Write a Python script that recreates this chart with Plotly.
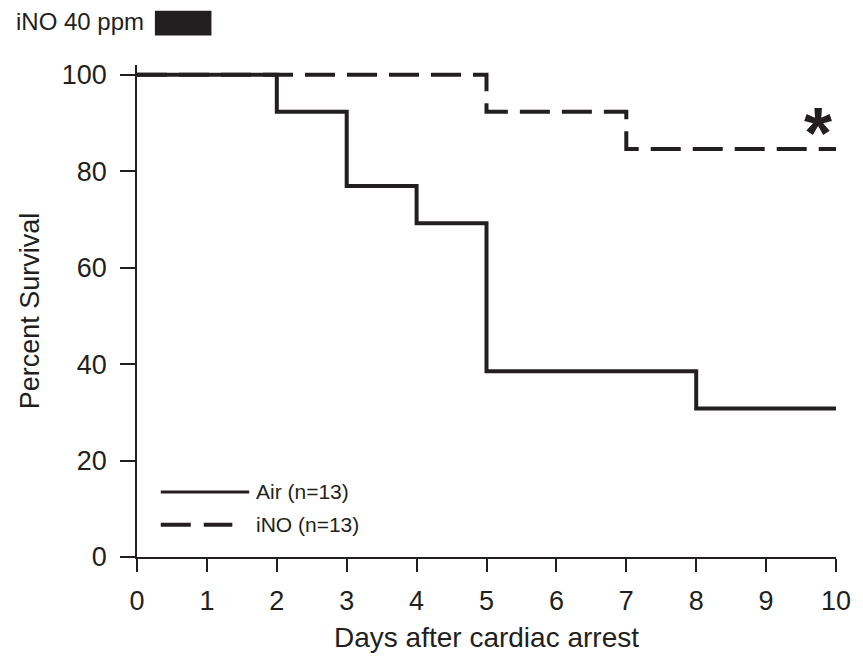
import plotly.graph_objects as go

# Data (Kaplan-Meier step curves)
air_days = [0, 2, 3, 4, 5, 8, 10]
air_surv = [100, 92.3, 76.9, 69.2, 38.5, 30.8, 30.8]
ino_days = [0, 5, 7, 10]
ino_surv = [100, 92.3, 84.6, 84.6]
x_ticks = [0, 1, 2, 3, 4, 5, 6, 7, 8, 9, 10]
y_ticks = [0, 20, 40, 60, 80, 100]

ink = "#231f20"
font = "Liberation Sans, Arial, sans-serif"

fig = go.Figure()
fig.add_trace(go.Scatter(x=air_days, y=air_surv, mode="lines", line_shape="hv",
                         line=dict(color=ink, width=4), name="Air (n=13)", cliponaxis=False))
fig.add_trace(go.Scatter(x=ino_days, y=ino_surv, mode="lines", line_shape="hv",
                         line=dict(color=ink, width=4, dash="30px,12px"), name="iNO (n=13)",
                         cliponaxis=False))

# custom legend
fig.add_shape(type="line", x0=0.34, x1=1.605, y0=13.5, y1=13.5, xref="x", yref="y",
              line=dict(color=ink, width=3))
fig.add_shape(type="line", x0=0.34, x1=1.364, y0=6.7, y1=6.7, xref="x", yref="y",
              line=dict(color=ink, width=4, dash="30px,13px"))
fig.add_annotation(x=1.68, y=13.5, text="Air (n=13)", showarrow=False, xanchor="left",
                   yanchor="middle", font=dict(size=21, color=ink, family=font))
fig.add_annotation(x=1.68, y=6.7, text="iNO (n=13)", showarrow=False, xanchor="left",
                   yanchor="middle", font=dict(size=21, color=ink, family=font))

# asterisk
fig.add_annotation(x=9.74, y=89.75, text="<b>*</b>", showarrow=False, yanchor="middle",
                   font=dict(size=72, color=ink, family=font), yshift=-9)

# iNO 40 ppm label + bar
fig.add_annotation(xref="paper", yref="paper", x=-0.176, y=1.0894, text="iNO 40 ppm",
                   showarrow=False, xanchor="left", yanchor="middle",
                   font=dict(size=24, color=ink, family=font))
fig.add_shape(type="rect", xref="paper", yref="paper", x0=0.0256, x1=0.1065, y0=1.0602, y1=1.1104,
              fillcolor=ink, line=dict(width=0))

fig.update_layout(
    width=863, height=660,
    margin=dict(l=137, r=22, t=65, b=97),
    plot_bgcolor="white", paper_bgcolor="white",
    showlegend=False,
    font=dict(family=font, color=ink, size=27),
    xaxis=dict(range=[0, 10], tickvals=x_ticks, ticks="outside", ticklen=13, tickwidth=1.5,
               tickcolor=ink, showline=True, linecolor=ink, linewidth=1.5, showgrid=False,
               zeroline=False, ticklabelstandoff=6,
               title=dict(text="Days after cardiac arrest", standoff=12, font=dict(size=28)),
               tickfont=dict(size=27)),
    yaxis=dict(range=[0, 102], tickvals=y_ticks, ticks="outside", ticklen=15, tickwidth=1.5,
               tickcolor=ink, showline=True, linecolor=ink, linewidth=1.5, showgrid=False,
               zeroline=False, ticklabelstandoff=8,
               title=dict(text="Percent Survival", standoff=14, font=dict(size=27)),
               tickfont=dict(size=27)),
)

fig.write_html("out.html", config={"displayModeBar": False},
               post_script="document.body.style.margin='0';")
